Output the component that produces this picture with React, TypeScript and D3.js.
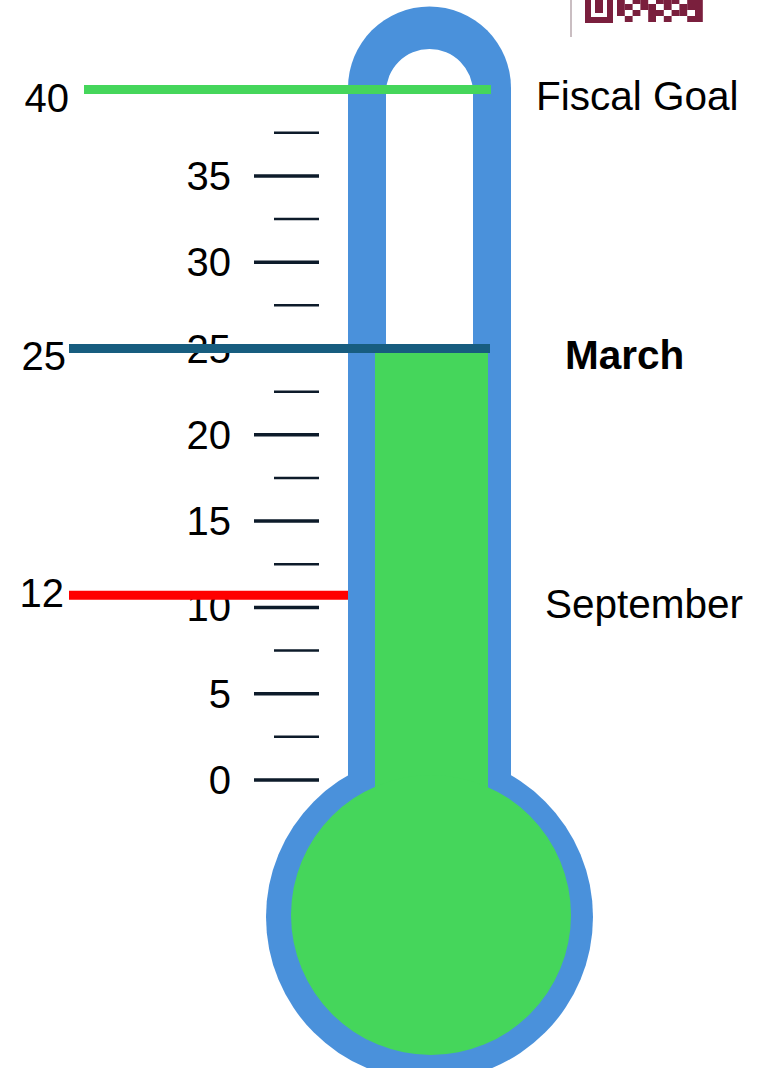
import * as d3 from "d3";

// 目盛りの値
const majorTicks = [0, 5, 10, 15, 20, 25, 30, 35];
const minorTicks = [2.5, 7.5, 12.5, 17.5, 22.5, 27.5, 32.5, 37.5];

// 現在の値(緑の液体)
const currentValue = 25;

// マーカー線
const markerLevels = [40, 25, 10.7];
const markerLabels = ["40", "25", "12"];
const markerNames = ["Fiscal Goal", "March", "September"];
const markerColors = ["#45d65b", "#175d7f", "#ff0000"];

// QRコードの切れ端 (装飾)
const qrCells = [
  [0, 0], [2, 0], [3, 0], [5, 0], [6, 0], [7, 0], [9, 0], [10, 0],
  [0, 1], [1, 1], [3, 1], [4, 1], [6, 1], [8, 1], [9, 1], [10, 1],
  [0, 2], [2, 2], [4, 2], [5, 2], [7, 2], [8, 2], [10, 2],
  [1, 3], [4, 3], [6, 3], [9, 3], [10, 3],
];

const App = () => {
  const width = 770;
  const height = 1068;

  const y = d3.scaleLinear().domain([0, 40]).range([780, 89.6]);

  const cx = 429.5;
  const outerR = 81.5;
  const outerTopY = 88;
  const innerR = 43.5;
  const innerTopY = 92.5;

  const tube = d3.path();
  tube.moveTo(cx - outerR, 800);
  tube.lineTo(cx - outerR, outerTopY);
  tube.arc(cx, outerTopY, outerR, Math.PI, 0);
  tube.lineTo(cx + outerR, 800);
  tube.closePath();

  const inner = d3.path();
  inner.moveTo(cx - innerR, 800);
  inner.lineTo(cx - innerR, innerTopY);
  inner.arc(cx, innerTopY, innerR, Math.PI, 0);
  inner.lineTo(cx + innerR, 800);
  inner.closePath();

  const font = "'Liberation Sans', Arial, sans-serif";
  const tickColor = "#0d1b2a";

  const lineStart = [84, 69, 69];
  const lineEnd = [491, 490, 348];
  const leftLabelX = [69, 66, 64];
  const leftLabelDy = [22, 21, 12];
  const rightLabelX = [536, 565, 545];
  const rightLabelDy = [20, 20, 23];

  return (
    <svg width={width} height={height} style={{position: "absolute", left: 0, top: 0}}>
      <rect width={width} height={height} fill="#fff"/>

      {/* QRコードの切れ端 */}
      <line x1={571} x2={571} y1={0} y2={37} stroke="#b9a9ae" strokeWidth={1.5}/>
      <rect x={585} y={-6} width={28} height={29} fill="#7a1f3d"/>
      <rect x={591} y={-6} width={16} height={23} fill="#fff"/>
      <rect x={595} y={-2} width={8} height={15} fill="#7a1f3d"/>
      {qrCells.map(([c, r], i) => (
        <rect key={i} x={617 + c * 7.8} y={-2 + r * 6} width={7.8} height={6} fill="#7a1f3d"/>
      ))}

      {/* 温度計本体 */}
      <circle cx={cx} cy={917} r={163.5} fill="#4a91db"/>
      <path d={tube.toString()} fill="#4a91db"/>
      <path d={inner.toString()} fill="#fff"/>
      <rect x={375} y={y(currentValue)} width={113} height={810 - y(currentValue)} fill="#45d65b"/>
      <circle cx={431} cy={915} r={140} fill="#45d65b"/>

      {/* 目盛り */}
      {majorTicks.map(t => (
        <g key={t}>
          <line x1={254} x2={319} y1={y(t)} y2={y(t)} stroke={tickColor} strokeWidth={3.5}/>
          <text x={231} y={y(t) + 14} textAnchor="end" fontSize={40} fontFamily={font} fill="#000">{t}</text>
        </g>
      ))}
      {minorTicks.map(t => (
        <line key={t} x1={274} x2={319} y1={y(t)} y2={y(t)} stroke={tickColor} strokeWidth={2.5}/>
      ))}

      {/* マーカー線とラベル */}
      {markerLevels.map((v, i) => (
        <g key={i}>
          <line x1={lineStart[i]} x2={lineEnd[i]} y1={y(v)} y2={y(v)} stroke={markerColors[i]} strokeWidth={9}/>
          <text x={leftLabelX[i]} y={y(v) + leftLabelDy[i]} textAnchor="end" fontSize={40} fontFamily={font} fill="#000">
            {markerLabels[i]}
          </text>
          <text x={rightLabelX[i]} y={y(v) + rightLabelDy[i]} fontSize={40.5}
                fontWeight={i === 1 ? "bold" : "normal"} fontFamily={font} fill="#000">
            {markerNames[i]}
          </text>
        </g>
      ))}
    </svg>
  );
};

export default App;
